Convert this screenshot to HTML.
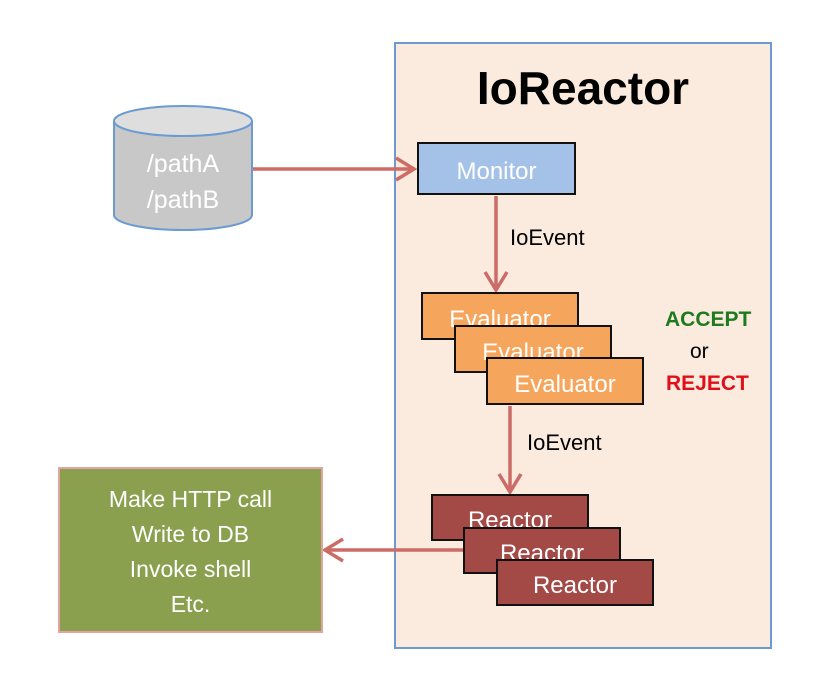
<!DOCTYPE html>
<html><head><style>
body{margin:0;width:816px;height:694px;background:#fff;position:relative;overflow:hidden;font-family:"Liberation Sans",sans-serif}
.a{position:absolute;box-sizing:border-box}
.bx{border:2px solid #111;color:#fff;font-size:24px;text-align:center;overflow:hidden}
.ev{background:#f6a55c;line-height:52px;width:158px;height:48px}
.re{background:#a34a47;line-height:50px;width:158px;height:47px}
</style></head><body>
<div class="a" style="left:394px;top:42px;width:378px;height:607px;background:#fbebdf;border:2px solid #6b9bd1"></div>
<div class="a" style="left:394px;top:61px;width:378px;text-align:center;font-size:46px;font-weight:bold;color:#000">IoReactor</div>
<svg class="a" style="left:0;top:0" width="816" height="694">
<path d="M114 121 V215 A69 15 0 0 0 252 215 V121" fill="#c8c8c8" stroke="#6b9bd1" stroke-width="2"/>
<ellipse cx="183" cy="121" rx="69" ry="15" fill="#dedede" stroke="#6b9bd1" stroke-width="2"/>
<g stroke="#cd6b66" stroke-width="3.5" fill="none">
<line x1="253" y1="169" x2="414" y2="169"/><path d="M396 158 L414 169 L396 180"/>
<line x1="496" y1="196" x2="496" y2="290"/><path d="M485 272 L496 290 L507 272"/>
<line x1="510" y1="406" x2="510" y2="492"/><path d="M499 474 L510 492 L521 474"/>
<line x1="463" y1="550" x2="325" y2="550"/><path d="M343 539 L325 550 L343 561"/>
</g>
</svg>
<div class="a" style="left:114px;top:146px;width:138px;text-align:center;color:#fff;font-size:25px;line-height:36px">/pathA<br>/pathB</div>
<div class="a bx" style="left:417px;top:142px;width:159px;height:53px;background:#a4c2e8;line-height:56px">Monitor</div>
<div class="a" style="left:510px;top:225px;font-size:22px">IoEvent</div>
<div class="a bx ev" style="left:421px;top:292px">Evaluator</div>
<div class="a bx ev" style="left:454px;top:325px">Evaluator</div>
<div class="a bx ev" style="left:486px;top:357px">Evaluator</div>
<div class="a" style="left:665px;top:308px;font-size:21px;font-weight:bold;color:#1e7a1e">ACCEPT</div>
<div class="a" style="left:690px;top:340px;font-size:21px">or</div>
<div class="a" style="left:666px;top:372px;font-size:21px;font-weight:bold;color:#e0101a">REJECT</div>
<div class="a" style="left:527px;top:430px;font-size:22px">IoEvent</div>
<div class="a bx re" style="left:431px;top:494px">Reactor</div>
<div class="a bx re" style="left:463px;top:527px">Reactor</div>
<div class="a bx re" style="left:496px;top:559px">Reactor</div>
<div class="a" style="left:58px;top:467px;width:265px;height:166px;background:#8aa04f;border:2px solid #e3a3a0;color:#fff;font-size:23px;text-align:center;line-height:35px;padding-top:13px">Make HTTP call<br>Write to DB<br>Invoke shell<br>Etc.</div>
</body></html>
